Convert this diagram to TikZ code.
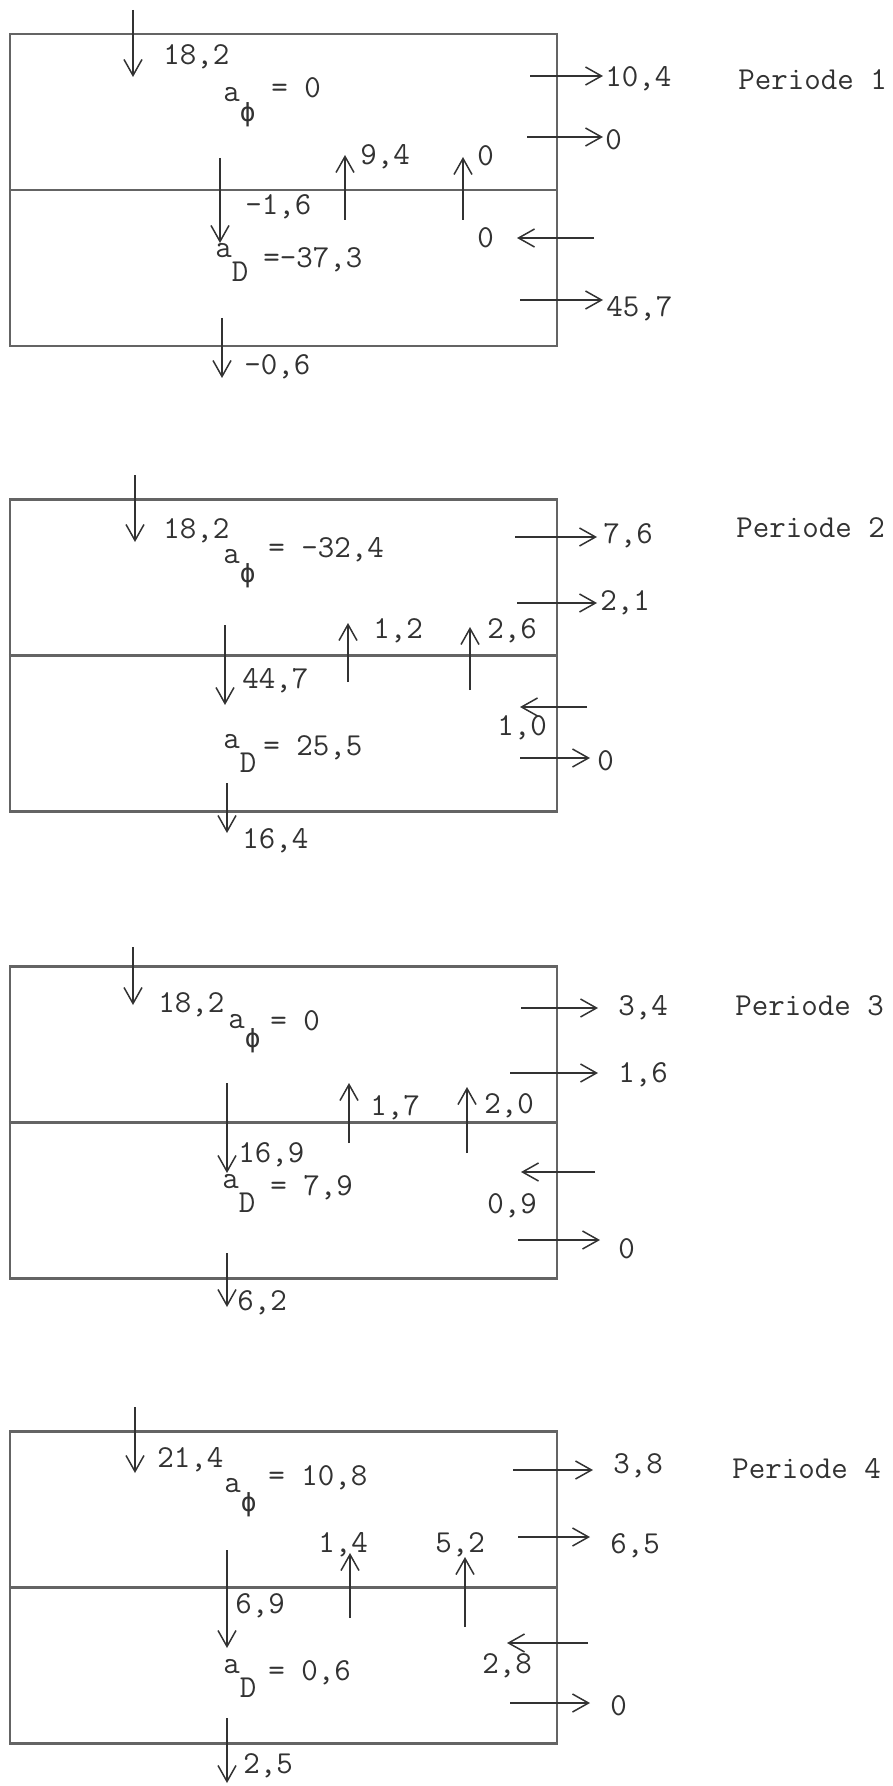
\documentclass[tikz,border=0pt]{standalone}
\usepackage{fontspec}
\usepackage{tikz}
\usetikzlibrary{arrows.meta}
\newfontfamily\grfont{DejaVu Sans Mono}
\definecolor{tinte}{RGB}{50,50,50}
\definecolor{rahmen}{RGB}{100,100,100}
\newcommand{\balfont}{\ttfamily\fontsize{16}{19}\selectfont}
\newcommand{\idx}[2][0.75em]{\raisebox{-#1}{#2}}
\newcommand{\phisym}{\idx[0.6em]{\grfont\fontsize{13}{15}\selectfont ϕ}}
\tikzset{
    balblock/.style={rectangle, draw=rahmen, line width=1.1pt, minimum width=273.5pt, minimum height=156pt, inner sep=0pt},
    balline/.style={draw=rahmen, line width=1.1pt},
    balarrow/.style={-{Straight Barb[length=8pt, width=9pt]}, draw=tinte, line width=0.75pt},
    balvalue/.style={font=\balfont, text=tinte, inner sep=0pt, anchor=base west},
    balperiod/.style={font=\balfont, text=tinte, inner sep=0pt, anchor=base west}
}

\begin{document}
\begin{tikzpicture}[x=0.5pt, y=-0.5pt]
\useasboundingbox (0,0) rectangle (893,1786);

% Periode 1
\node[balblock] (p1) at (283.5,190) {};
\draw[balline] (p1.west) -- (p1.east);
\coordinate (p1zu0) at (133,10); \coordinate (p1zu1) at (133,77);
\coordinate (p1ab0) at (220,158); \coordinate (p1ab1) at (220,243);
\coordinate (p1up0) at (345,220); \coordinate (p1up1) at (345,155);
\coordinate (p1uq0) at (463,220); \coordinate (p1uq1) at (463,157);
\coordinate (p1ra0) at (530,76); \coordinate (p1ra1) at (603,76);
\coordinate (p1rb0) at (527,137); \coordinate (p1rb1) at (603,137);
\coordinate (p1li0) at (594,238); \coordinate (p1li1) at (517,238);
\coordinate (p1rc0) at (520,300); \coordinate (p1rc1) at (603,300);
\coordinate (p1aus0) at (222,318); \coordinate (p1aus1) at (222,378);
\draw[balarrow] (p1zu0) -- (p1zu1);
\draw[balarrow] (p1ab0) -- (p1ab1);
\draw[balarrow] (p1up0) -- (p1up1);
\draw[balarrow] (p1uq0) -- (p1uq1);
\draw[balarrow] (p1ra0) -- (p1ra1);
\draw[balarrow] (p1rb0) -- (p1rb1);
\draw[balarrow] (p1li0) -- (p1li1);
\draw[balarrow] (p1rc0) -- (p1rc1);
\draw[balarrow] (p1aus0) -- (p1aus1);
\node[balvalue] (p1zuv) at (163,65) {18,2};
\node[balvalue] (p1phi) at (223,102) {a\phisym};
\node[balvalue] (p1phiv) at (271,98) {= 0};
\node[balvalue] (p1abv) at (245,215) {-1,6};
\node[balvalue] (p1upv) at (360,165) {9,4};
\node[balvalue] (p1uqv) at (477,166) {0};
\node[balvalue] (p1d) at (215,258) {a\idx{D}};
\node[balvalue] (p1dv) at (263,268) {=-37,3};
\node[balvalue] (p1rav) at (605,87) {10,4};
\node[balvalue] (p1rbv) at (605,150) {0};
\node[balvalue] (p1liv) at (477,248) {0};
\node[balvalue] (p1rcv) at (606,317) {45,7};
\node[balvalue] (p1ausv) at (244,375) {-0,6};
\node[balperiod] (per1) at (738,90) {Periode 1};

% Periode 2
\node[balblock] (p2) at (283.5,655.5) {};
\draw[balline] (p2.west) -- (p2.east);
\coordinate (p2zu0) at (135,475); \coordinate (p2zu1) at (135,542);
\coordinate (p2ab0) at (225,625); \coordinate (p2ab1) at (225,705);
\coordinate (p2up0) at (348,682); \coordinate (p2up1) at (348,623);
\coordinate (p2uq0) at (470,690); \coordinate (p2uq1) at (470,627);
\coordinate (p2ra0) at (515,537); \coordinate (p2ra1) at (597,537);
\coordinate (p2rb0) at (517,603); \coordinate (p2rb1) at (597,603);
\coordinate (p2li0) at (587,707); \coordinate (p2li1) at (520,707);
\coordinate (p2rc0) at (520,758); \coordinate (p2rc1) at (590,758);
\coordinate (p2aus0) at (227,783); \coordinate (p2aus1) at (227,833);
\draw[balarrow] (p2zu0) -- (p2zu1);
\draw[balarrow] (p2ab0) -- (p2ab1);
\draw[balarrow] (p2up0) -- (p2up1);
\draw[balarrow] (p2uq0) -- (p2uq1);
\draw[balarrow] (p2ra0) -- (p2ra1);
\draw[balarrow] (p2rb0) -- (p2rb1);
\draw[balarrow] (p2li0) -- (p2li1);
\draw[balarrow] (p2rc0) -- (p2rc1);
\draw[balarrow] (p2aus0) -- (p2aus1);
\node[balvalue] (p2zuv) at (163,538) {18,2};
\node[balvalue] (p2phi) at (223,563) {a\phisym};
\node[balvalue] (p2phiv) at (268,557) {= -32,4};
\node[balvalue] (p2abv) at (242,688) {44,7};
\node[balvalue] (p2upv) at (373,638) {1,2};
\node[balvalue] (p2uqv) at (487,638) {2,6};
\node[balvalue] (p2d) at (223,748) {a\idx{D}};
\node[balvalue] (p2dv) at (263,755) {= 25,5};
\node[balvalue] (p2rav) at (603,543) {7,6};
\node[balvalue] (p2rbv) at (600,610) {2,1};
\node[balvalue] (p2liv) at (497,735) {1,0};
\node[balvalue] (p2rcv) at (597,770) {0};
\node[balvalue] (p2ausv) at (242,848) {16,4};
\node[balperiod] (per2) at (736,537) {Periode 2};

% Periode 3
\node[balblock] (p3) at (283.5,1122.5) {};
\draw[balline] (p3.west) -- (p3.east);
\coordinate (p3zu0) at (133,947); \coordinate (p3zu1) at (133,1005);
\coordinate (p3ab0) at (227,1083); \coordinate (p3ab1) at (227,1173);
\coordinate (p3up0) at (349,1143); \coordinate (p3up1) at (349,1083);
\coordinate (p3uq0) at (467,1153); \coordinate (p3uq1) at (467,1087);
\coordinate (p3ra0) at (521,1008); \coordinate (p3ra1) at (598,1008);
\coordinate (p3rb0) at (510,1073); \coordinate (p3rb1) at (598,1073);
\coordinate (p3li0) at (595,1172); \coordinate (p3li1) at (521,1172);
\coordinate (p3rc0) at (518,1240); \coordinate (p3rc1) at (600,1240);
\coordinate (p3aus0) at (227,1253); \coordinate (p3aus1) at (227,1307);
\draw[balarrow] (p3zu0) -- (p3zu1);
\draw[balarrow] (p3ab0) -- (p3ab1);
\draw[balarrow] (p3up0) -- (p3up1);
\draw[balarrow] (p3uq0) -- (p3uq1);
\draw[balarrow] (p3ra0) -- (p3ra1);
\draw[balarrow] (p3rb0) -- (p3rb1);
\draw[balarrow] (p3li0) -- (p3li1);
\draw[balarrow] (p3rc0) -- (p3rc1);
\draw[balarrow] (p3aus0) -- (p3aus1);
\node[balvalue] (p3zuv) at (158,1012) {18,2};
\node[balvalue] (p3phi) at (228,1028) {a\phisym};
\node[balvalue] (p3phiv) at (270,1030) {= 0};
\node[balvalue] (p3abv) at (238,1162) {16,9};
\node[balvalue] (p3upv) at (370,1115) {1,7};
\node[balvalue] (p3uqv) at (484,1113) {2,0};
\node[balvalue] (p3d) at (222,1188) {a\idx{D}};
\node[balvalue] (p3dv) at (270,1195) {= 7,9};
\node[balvalue] (p3rav) at (618,1015) {3,4};
\node[balvalue] (p3rbv) at (618,1082) {1,6};
\node[balvalue] (p3liv) at (487,1213) {0,9};
\node[balvalue] (p3rcv) at (618,1258) {0};
\node[balvalue] (p3ausv) at (237,1310) {6,2};
\node[balperiod] (per3) at (735,1015) {Periode 3};

% Periode 4
\node[balblock] (p4) at (283.5,1587.5) {};
\draw[balline] (p4.west) -- (p4.east);
\coordinate (p4zu0) at (135,1407); \coordinate (p4zu1) at (135,1473);
\coordinate (p4ab0) at (227,1550); \coordinate (p4ab1) at (227,1648);
\coordinate (p4up0) at (350,1618); \coordinate (p4up1) at (350,1553);
\coordinate (p4uq0) at (465,1627); \coordinate (p4uq1) at (465,1557);
\coordinate (p4ra0) at (513,1470); \coordinate (p4ra1) at (593,1470);
\coordinate (p4rb0) at (518,1537); \coordinate (p4rb1) at (590,1537);
\coordinate (p4li0) at (588,1643); \coordinate (p4li1) at (507,1643);
\coordinate (p4rc0) at (510,1703); \coordinate (p4rc1) at (590,1703);
\coordinate (p4aus0) at (227,1718); \coordinate (p4aus1) at (227,1783);
\draw[balarrow] (p4zu0) -- (p4zu1);
\draw[balarrow] (p4ab0) -- (p4ab1);
\draw[balarrow] (p4up0) -- (p4up1);
\draw[balarrow] (p4uq0) -- (p4uq1);
\draw[balarrow] (p4ra0) -- (p4ra1);
\draw[balarrow] (p4rb0) -- (p4rb1);
\draw[balarrow] (p4li0) -- (p4li1);
\draw[balarrow] (p4rc0) -- (p4rc1);
\draw[balarrow] (p4aus0) -- (p4aus1);
\node[balvalue] (p4zuv) at (157,1467) {21,4};
\node[balvalue] (p4phi) at (224,1492) {a\phisym};
\node[balvalue] (p4phiv) at (268,1485) {= 10,8};
\node[balvalue] (p4abv) at (235,1613) {6,9};
\node[balvalue] (p4upv) at (318,1552) {1,4};
\node[balvalue] (p4uqv) at (435,1552) {5,2};
\node[balvalue] (p4d) at (223,1673) {a\idx{D}};
\node[balvalue] (p4dv) at (268,1680) {= 0,6};
\node[balvalue] (p4rav) at (613,1473) {3,8};
\node[balvalue] (p4rbv) at (610,1553) {6,5};
\node[balvalue] (p4liv) at (482,1673) {2,8};
\node[balvalue] (p4rcv) at (610,1715) {0};
\node[balvalue] (p4ausv) at (243,1773) {2,5};
\node[balperiod] (per4) at (732,1478) {Periode 4};

\end{tikzpicture}
\end{document}
